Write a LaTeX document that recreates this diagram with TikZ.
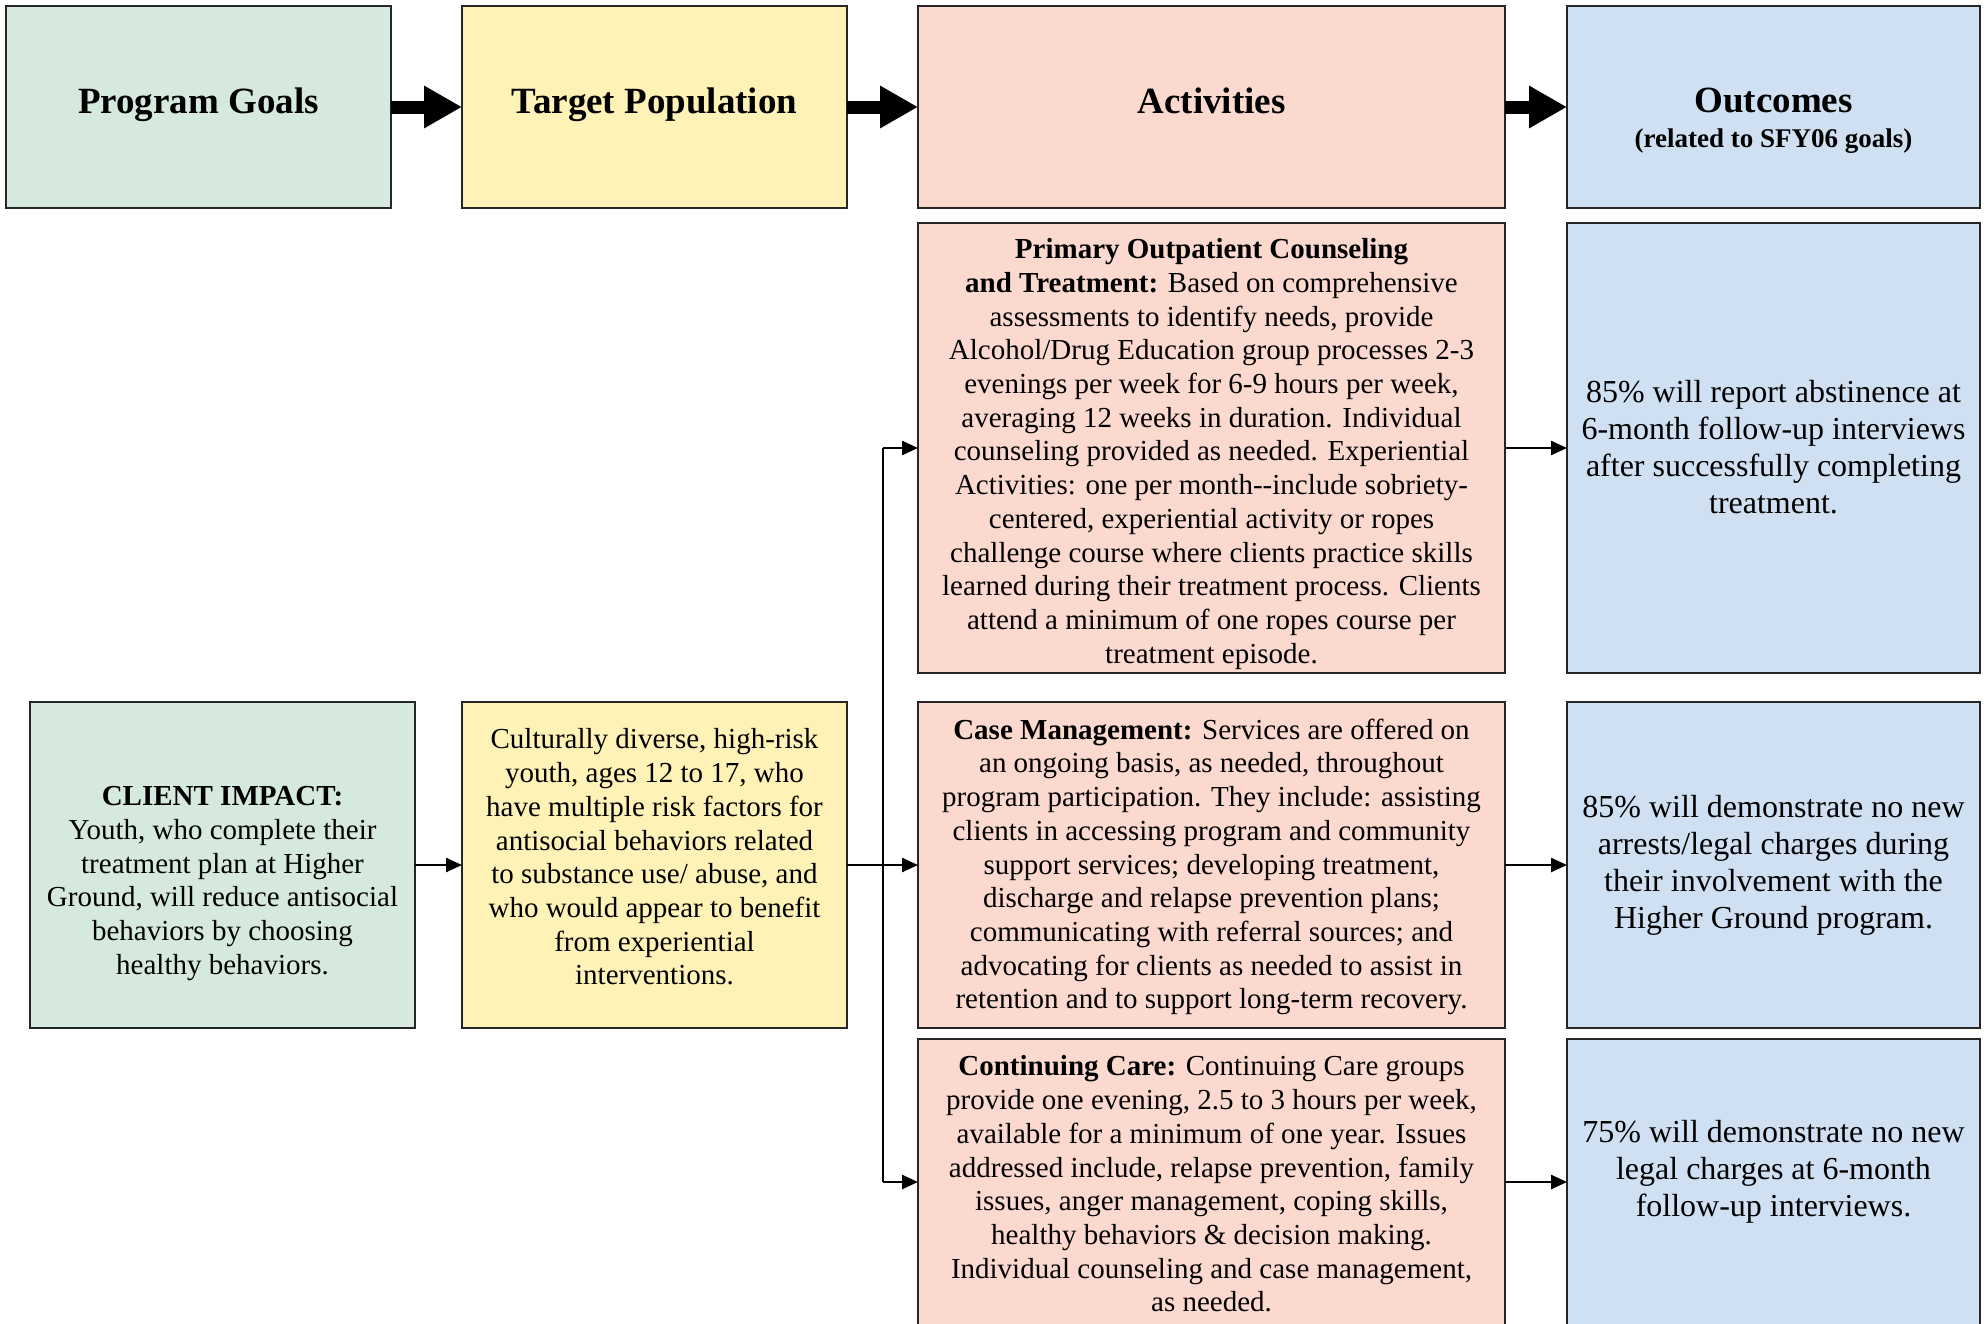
\documentclass[tikz,border=0pt]{standalone}
\usepackage{fontspec}
\setmainfont{Liberation Serif}
\usetikzlibrary{arrows.meta}
\definecolor{cgreen}{RGB}{213,233,222}
\definecolor{cyellow}{RGB}{255,242,182}
\definecolor{cpink}{RGB}{251,217,207}
\definecolor{cblue}{RGB}{206,224,241}
\begin{document}
\begin{tikzpicture}[x=1pt,y=-1pt,
 box/.style={draw=black!85, line width=2.2pt, inner sep=0pt, outer sep=0pt},
 body/.style={align=center, font=\fontsize{29}{33.7}\selectfont, inner sep=0pt},
 outc/.style={align=center, font=\fontsize{32}{37}\selectfont, inner sep=0pt},
 head/.style={align=center, font=\fontsize{37}{44}\selectfont\bfseries, inner sep=0pt, anchor=base},
 fat/.style={line width=13pt, -{Triangle[length=38pt,width=40pt]}},
 conn/.style={line width=2.4pt, -{Triangle[length=16pt,width=14pt]}}]
\useasboundingbox (0,0) rectangle (1986,1323);
\fill[white] (0,0) rectangle (1986,1323);
% header boxes
\node[box, fill=cgreen, minimum width=385pt, minimum height=202pt] (pg) at (198.5,107) {};
\node[box, fill=cyellow, minimum width=385pt, minimum height=202pt] (tp) at (654.5,107) {};
\node[box, fill=cpink, minimum width=587pt, minimum height=202pt] (ac) at (1211.5,107) {};
\node[box, fill=cblue, minimum width=413pt, minimum height=202pt] (oc) at (1773.5,107) {};
% content boxes
\node[box, fill=cpink, minimum width=587pt, minimum height=450pt] (prim) at (1211.5,448) {};
\node[box, fill=cblue, minimum width=413pt, minimum height=450pt] (o1) at (1773.5,448) {};
\node[box, fill=cgreen, minimum width=385pt, minimum height=326pt] (ci) at (222.5,865) {};
\node[box, fill=cyellow, minimum width=385pt, minimum height=326pt] (tpt) at (654.5,865) {};
\node[box, fill=cpink, minimum width=587pt, minimum height=326pt] (cm) at (1211.5,865) {};
\node[box, fill=cblue, minimum width=413pt, minimum height=326pt] (o2) at (1773.5,865) {};
\node[box, fill=cpink, minimum width=587pt, minimum height=293pt] (cc) at (1211.5,1185.5) {};
\node[box, fill=cblue, minimum width=413pt, minimum height=293pt] (o3) at (1773.5,1185.5) {};
% header texts
\node[head] (pgT) at (198.5,113) {Program Goals};
\node[head] (tpT) at (654.5,113) {Target Population};
\node[head] (acT) at (1211.5,113) {Activities};
\node[head] (ocT) at (1773.5,112) {Outcomes};
\node[head, font=\fontsize{27}{32}\selectfont\bfseries] (ocS) at (1773.5,147) {(related to SFY06 goals)};
% body texts
\node[body] (primT) at (1211.5,454) {\textbf{Primary Outpatient Counseling}\\
\textbf{and Treatment:} Based on comprehensive\\
assessments to identify needs, provide\\
Alcohol/Drug Education group processes 2-3\\
evenings per week for 6-9 hours per week,\\
averaging 12 weeks in duration. Individual\\
counseling provided as needed. Experiential\\
Activities: one per month-{}-include sobriety-\\
centered, experiential activity or ropes\\
challenge course where clients practice skills\\
learned during their treatment process. Clients\\
attend a minimum of one ropes course per\\
treatment episode.};
\node[body] (cmT) at (1211.5,867) {\textbf{Case Management:} Services are offered on\\
an ongoing basis, as needed, throughout\\
program participation. They include: assisting\\
clients in accessing program and community\\
support services; developing treatment,\\
discharge and relapse prevention plans;\\
communicating with referral sources; and\\
advocating for clients as needed to assist in\\
retention and to support long-term recovery.};
\node[body] (ccT) at (1211.5,1184) {\textbf{Continuing Care:} Continuing Care groups\\
provide one evening, 2.5 to 3 hours per week,\\
available for a minimum of one year. Issues\\
addressed include, relapse prevention, family\\
issues, anger management, coping skills,\\
healthy behaviors \& decision making.\\
Individual counseling and case management,\\
as needed.};
\node[body] (ciT) at (222.5,883.5) {\textbf{CLIENT IMPACT:}\\
Youth, who complete their\\
treatment plan at Higher\\
Ground, will reduce antisocial\\
behaviors by choosing\\
healthy behaviors.};
\node[body] (tptT) at (654.5,857) {Culturally diverse, high-risk\\
youth, ages 12 to 17, who\\
have multiple risk factors for\\
antisocial behaviors related\\
to substance use/ abuse, and\\
who would appear to benefit\\
from experiential\\
interventions.};
\node[outc] (o1T) at (1773.5,447) {85\% will report abstinence at\\6-month follow-up interviews\\after successfully completing\\treatment.};
\node[outc] (o2T) at (1773.5,865.5) {85\% will demonstrate no new\\arrests/legal charges during\\their involvement with the\\Higher Ground program.};
\node[outc] (o3T) at (1773.5,1171.5) {75\% will demonstrate no new\\legal charges at 6-month\\follow-up interviews.};
% fat header arrows
\draw[fat] (pg.east) -- (tp.west);
\draw[fat] (tp.east) -- (ac.west);
\draw[fat] (ac.east) -- (oc.west);
% connectors
\coordinate (bx) at (883,865);
\coordinate (ccin) at ([yshift=3.5pt]cc.west);
\coordinate (o3in) at ([yshift=3.5pt]o3.west);
\draw[conn] (ci.east) -- (tpt.west);
\draw[conn] (tpt.east) -- (cm.west);
\draw[line width=2.4pt] (bx |- prim.west) -- (bx |- ccin);
\draw[conn] (bx |- prim.west) -- (prim.west);
\draw[conn] (bx |- ccin) -- (ccin);
\draw[conn] (prim.east) -- (o1.west);
\draw[conn] (cm.east) -- (o2.west);
\draw[conn] (cc.east |- ccin) -- (o3in);
\end{tikzpicture}
\end{document}
